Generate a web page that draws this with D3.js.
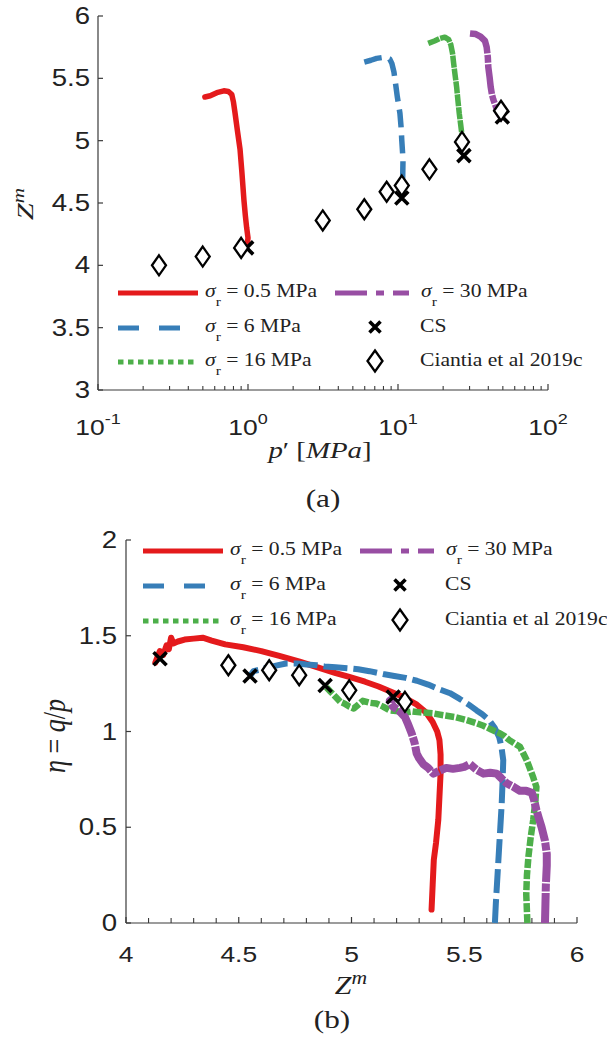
<!DOCTYPE html>
<html><head><meta charset="utf-8">
<script src="https://cdn.jsdelivr.net/npm/d3@7"></script>
<style>body{margin:0;background:#fff}</style>
</head><body>
<svg id="c" width="607" height="1040" xmlns="http://www.w3.org/2000/svg"></svg>
<script>
// ---------------- DATA ----------------
// (a) p' [MPa] vs Z^m
const topRed    = [[0.516,5.35],[0.56,5.36],[0.62,5.385],[0.69,5.40],[0.74,5.395],[0.78,5.37],[0.80,5.31],[0.82,5.22],[0.85,5.08],[0.885,4.93],[0.91,4.75],[0.94,4.52],[0.96,4.40],[0.98,4.30],[1.0,4.22],[0.99,4.17],[0.97,4.15]];
const topBlue   = [[5.96,5.63],[6.6,5.645],[7.2,5.66],[8.2,5.67],[8.8,5.655],[9.1,5.62],[9.4,5.55],[9.6,5.47],[9.9,5.35],[10.3,5.22],[10.5,5.10],[10.6,5.0],[10.8,4.85],[10.75,4.71],[10.6,4.6]];
const topGreen  = [[15.9,5.78],[17.5,5.80],[19,5.82],[20.5,5.83],[21.8,5.81],[22.5,5.77],[23.1,5.70],[23.5,5.62],[24.0,5.53],[24.6,5.43],[25.1,5.32],[25.6,5.22],[26.1,5.14],[26.6,5.06],[26.9,4.99]];
const topPurple = [[30.2,5.86],[33,5.855],[35.5,5.835],[38,5.80],[39,5.75],[39.7,5.67],[40,5.59],[40.8,5.51],[41.5,5.43],[42.3,5.37],[43.2,5.33],[45,5.27],[46.7,5.22],[48.5,5.19],[50.4,5.17]];
const topCS       = [[0.98,4.14],[10.6,4.54],[27.5,4.88],[49.6,5.19]];
const topCiantia  = [[0.255,4.0],[0.499,4.07],[0.90,4.14],[3.15,4.36],[5.96,4.45],[8.4,4.59],[10.6,4.64],[16.2,4.77],[26.7,4.99],[48.6,5.24]];

// (b) Z^m vs eta = q/p
const botRed = [[4.13,1.36],[4.14,1.39],[4.15,1.42],[4.165,1.40],[4.18,1.45],[4.19,1.43],[4.20,1.49],[4.21,1.46],[4.23,1.47],[4.26,1.48],[4.30,1.485],[4.34,1.49],[4.38,1.475],[4.44,1.455],[4.52,1.44],[4.60,1.42],[4.68,1.395],[4.77,1.365],[4.85,1.335],[4.93,1.305],[4.99,1.285],[5.06,1.26],[5.12,1.235],[5.17,1.21],[5.23,1.18],[5.29,1.14],[5.33,1.10],[5.36,1.05],[5.38,1.0],[5.39,0.955],[5.395,0.88],[5.395,0.78],[5.39,0.66],[5.385,0.54],[5.375,0.42],[5.365,0.33],[5.36,0.20],[5.355,0.07]];
const botBlue = [[5.636,0.0],[5.64,0.1],[5.645,0.2],[5.65,0.3],[5.655,0.4],[5.66,0.5],[5.666,0.62],[5.67,0.74],[5.673,0.85],[5.665,0.92],[5.655,0.97],[5.635,1.02],[5.61,1.06],[5.58,1.09],[5.555,1.11],[5.52,1.14],[5.48,1.17],[5.437,1.20],[5.39,1.22],[5.34,1.245],[5.29,1.265],[5.24,1.28],[5.19,1.29],[5.14,1.30],[5.08,1.315],[5.03,1.325],[4.99,1.33],[4.93,1.335],[4.88,1.34],[4.846,1.346],[4.80,1.35],[4.76,1.355],[4.71,1.355],[4.67,1.345],[4.63,1.335],[4.60,1.325],[4.565,1.315],[4.55,1.29]];
const botGreen = [[5.78,0.0],[5.778,0.06],[5.775,0.15],[5.778,0.25],[5.785,0.35],[5.795,0.45],[5.806,0.54],[5.815,0.63],[5.82,0.71],[5.806,0.76],[5.79,0.81],[5.777,0.85],[5.76,0.89],[5.747,0.92],[5.72,0.94],[5.70,0.955],[5.68,0.975],[5.659,0.99],[5.62,1.01],[5.585,1.03],[5.55,1.045],[5.51,1.06],[5.46,1.075],[5.407,1.085],[5.36,1.095],[5.304,1.10],[5.27,1.105],[5.245,1.10],[5.21,1.105],[5.17,1.11],[5.14,1.13],[5.11,1.146],[5.08,1.15],[5.05,1.16],[5.03,1.14],[5.01,1.12],[4.99,1.13],[4.97,1.145],[4.95,1.155],[4.93,1.18],[4.905,1.21],[4.885,1.235]];
const botPurple = [[5.858,0.0],[5.86,0.1],[5.862,0.2],[5.866,0.3],[5.866,0.36],[5.858,0.43],[5.843,0.50],[5.83,0.55],[5.82,0.59],[5.81,0.64],[5.80,0.68],[5.775,0.69],[5.747,0.69],[5.72,0.71],[5.688,0.73],[5.665,0.755],[5.644,0.78],[5.615,0.785],[5.585,0.78],[5.555,0.80],[5.525,0.83],[5.50,0.815],[5.48,0.81],[5.45,0.805],[5.42,0.81],[5.39,0.795],[5.363,0.78],[5.34,0.81],[5.318,0.83],[5.30,0.86],[5.289,0.885],[5.28,0.94],[5.267,0.99],[5.25,1.04],[5.237,1.076],[5.21,1.11],[5.185,1.13],[5.17,1.16],[5.19,1.18]];
const botCS      = [[4.151,1.38],[4.55,1.29],[4.883,1.24],[5.185,1.18]];
const botCiantia = [[4.454,1.346],[4.635,1.32],[4.768,1.294],[4.99,1.215],[5.237,1.155]];

// ticks / labels
const topYTicks = [3,3.5,4,4.5,5,5.5,6];
const topXMajor = [0.1,1,10,100];
const topXExp   = ["-1","0","1","2"];
const topXMinor = [0.2,0.3,0.4,0.5,0.6,0.7,0.8,0.9,2,3,4,5,6,7,8,9,20,30,40,50,60,70,80,90];
const botXTicks = [4,4.5,5,5.5,6];
const botXMinor = [4.1,4.2,4.3,4.4,4.6,4.7,4.8,4.9,5.1,5.2,5.3,5.4,5.6,5.7,5.8,5.9];
const botYTicks = [0,0.5,1,1.5,2];

const seriesNames = ["0.5","6","16","30"];
const colors = {red:"#e41a1c", blue:"#377eb8", green:"#4daf4a", purple:"#984ea3"};

// ---------------- DRAW ----------------
const svg = d3.select('#c');
const SX = 1.2;
const SANS = "'Liberation Sans', Arial, sans-serif";
const SERIF = "'Liberation Serif', 'Times New Roman', serif";
const AX = "#3a3a3a";

function stext(g, x, y, anchor, font, size, color){
  return g.append('text')
    .attr('transform', `translate(${x},${y}) scale(${SX},1)`)
    .attr('text-anchor', anchor).attr('font-family', font)
    .attr('font-size', size).attr('fill', color || '#222');
}

function markerCross(g, pts, xs, ys, s){
  g.selectAll(null).data(pts).enter().append('path')
    .attr('d', `M${-s},${-s}L${s},${s}M${-s},${s}L${s},${-s}`)
    .attr('transform', d => `translate(${xs(d[0])},${ys(d[1])})`)
    .attr('stroke', '#000').attr('stroke-width', 3.6).attr('fill','none');
}
function markerDiamond(g, pts, xs, ys, w, h){
  g.selectAll(null).data(pts).enter().append('path')
    .attr('d', `M0,${-h}L${w},0L0,${h}L${-w},0Z`)
    .attr('transform', d => `translate(${xs(d[0])},${ys(d[1])})`)
    .attr('stroke', '#000').attr('stroke-width', 2.3).attr('fill','#fff');
}

function drawLine(g, data, xs, ys, color, width, dash){
  const line = d3.line().x(d => xs(d[0])).y(d => ys(d[1]));
  g.append('path').datum(data).attr('d', line)
    .attr('fill','none').attr('stroke', color).attr('stroke-width', width)
    .attr('stroke-linejoin','round').attr('stroke-linecap', dash ? 'butt' : 'round')
    .attr('stroke-dasharray', dash || null);
}

function legend(g, x0, rows){
  const lineW = 80;
  const items = [
    {col:0,row:0,color:colors.red,dash:null,val:seriesNames[0]},
    {col:0,row:1,color:colors.blue,dash:"21,20",val:seriesNames[1]},
    {col:0,row:2,color:colors.green,dash:"5.5,4.5",val:seriesNames[2]},
    {col:1,row:0,color:colors.purple,dash:"32,9,8,9",val:seriesNames[3]},
  ];
  items.forEach(it => {
    const lx = it.col === 0 ? x0 : x0 + 217;
    const lw = it.col === 0 ? lineW : 74;
    const ty = rows[it.row];
    g.append('line').attr('x1', lx).attr('x2', lx + lw)
      .attr('y1', ty - 4).attr('y2', ty - 4)
      .attr('stroke', it.color).attr('stroke-width', 5).attr('stroke-dasharray', it.dash);
    const tx = lx + lw + 7 + (it.col === 1 ? 5 : 0);
    const t = stext(g, tx, ty, 'start', SERIF, 18);
    t.append('tspan').attr('font-style','italic').text('σ');
    t.append('tspan').attr('font-size', 13).attr('dy', 9).text('r');
    t.append('tspan').attr('dy', -9).text(` = ${it.val} MPa`);
  });
  const mx = x0 + 257;
  markerCross(g, [[0,0]], v => mx, v => rows[1] - 5, 5.5);
  stext(g, x0 + 302, rows[1], 'start', SERIF, 18).text('CS');
  markerDiamond(g, [[0,0]], v => mx, v => rows[2] - 5, 7.5, 10.5);
  stext(g, x0 + 302, rows[2], 'start', SERIF, 18).text('Ciantia et al 2019c');
}

// ===== Chart (a) =====
{
  const g = svg.append('g');
  const xs = d3.scaleLog().domain([0.1,100]).range([98,548]);
  const ys = d3.scaleLinear().domain([3,6]).range([390,16]);

  g.append('line').attr('x1',98).attr('x2',98).attr('y1',ys(6)).attr('y2',ys(3)).attr('stroke',AX).attr('stroke-width',1.2);
  g.append('line').attr('x1',98).attr('x2',548).attr('y1',390).attr('y2',390).attr('stroke',AX).attr('stroke-width',1.2);
  g.selectAll(null).data(topYTicks).enter().append('line')
    .attr('x1',98).attr('x2',103).attr('y1',d=>ys(d)).attr('y2',d=>ys(d)).attr('stroke',AX).attr('stroke-width',1.2);
  g.selectAll(null).data(topXMajor).enter().append('line')
    .attr('x1',d=>xs(d)).attr('x2',d=>xs(d)).attr('y1',390).attr('y2',384).attr('stroke',AX).attr('stroke-width',1.2);
  g.selectAll(null).data(topXMinor).enter().append('line')
    .attr('x1',d=>xs(d)).attr('x2',d=>xs(d)).attr('y1',390).attr('y2',386).attr('stroke',AX).attr('stroke-width',1.1);
  topYTicks.forEach(v => {
    stext(g, 90, ys(v) + 8, 'end', SANS, 23).text(v);
  });
  topXMajor.forEach((v,i) => {
    const t = stext(g, xs(v), 435, 'middle', SANS, 22);
    t.append('tspan').text('10');
    t.append('tspan').attr('font-size', 15).attr('dy', -11).text(topXExp[i]);
  });
  {
    const t = g.append('text').attr('transform','translate(33,204) rotate(-90) scale(1.25,1)')
      .attr('text-anchor','middle').attr('font-family',SERIF).attr('font-size',24).attr('fill','#222').attr('font-style','italic');
    t.append('tspan').text('Z');
    t.append('tspan').attr('font-size',17).attr('dy',-9).text('m');
  }
  {
    const t = stext(g, 320, 458, 'middle', SERIF, 24);
    t.append('tspan').attr('font-style','italic').text('p');
    t.append('tspan').text('′  [');
    t.append('tspan').attr('font-style','italic').text('MPa');
    t.append('tspan').text(']');
  }
  stext(g, 323, 507, 'middle', SERIF, 26).text('(a)');

  drawLine(g, topRed, xs, ys, colors.red, 5.5, null);
  drawLine(g, topBlue, xs, ys, colors.blue, 5.5, "18,8");
  drawLine(g, topGreen, xs, ys, colors.green, 5.5, "12,1");
  drawLine(g, topPurple, xs, ys, colors.purple, 6.5, "30,1.5,8,1.5");
  markerCross(g, topCS, xs, ys, 6.5);
  markerDiamond(g, topCiantia, xs, ys, 7, 10);

  legend(g, 118, [297, 332, 366]);
}

// ===== Chart (b) =====
{
  const g = svg.append('g');
  const xs = d3.scaleLinear().domain([4,6]).range([126,577]);
  const ys = d3.scaleLinear().domain([0,2]).range([923,540]);

  g.append('line').attr('x1',126).attr('x2',126).attr('y1',ys(2)).attr('y2',ys(0)).attr('stroke',AX).attr('stroke-width',1.2);
  g.append('line').attr('x1',126).attr('x2',577).attr('y1',923).attr('y2',923).attr('stroke',AX).attr('stroke-width',1.2);
  g.selectAll(null).data(botYTicks).enter().append('line')
    .attr('x1',126).attr('x2',131).attr('y1',d=>ys(d)).attr('y2',d=>ys(d)).attr('stroke',AX).attr('stroke-width',1.2);
  g.selectAll(null).data(botXTicks).enter().append('line')
    .attr('x1',d=>xs(d)).attr('x2',d=>xs(d)).attr('y1',923).attr('y2',917).attr('stroke',AX).attr('stroke-width',1.2);
  g.selectAll(null).data(botXMinor).enter().append('line')
    .attr('x1',d=>xs(d)).attr('x2',d=>xs(d)).attr('y1',923).attr('y2',918).attr('stroke',AX).attr('stroke-width',1.1);
  botYTicks.forEach(v => {
    stext(g, 117, ys(v) + 8, 'end', SANS, 23).text(v);
  });
  botXTicks.forEach(v => {
    stext(g, xs(v), 962, 'middle', SANS, 22).text(v);
  });
  {
    const t = stext(g, 351, 994, 'middle', SERIF, 25);
    t.append('tspan').attr('font-style','italic').text('Z');
    t.append('tspan').attr('font-size',18).attr('dy',-10).attr('font-style','italic').text('m');
  }
  {
    const t = g.append('text').attr('transform','translate(65,736) rotate(-90) scale(1,1.2)')
      .attr('text-anchor','middle').attr('font-family',SERIF).attr('font-size',26).attr('fill','#222');
    t.append('tspan').attr('font-style','italic').text('η');
    t.append('tspan').text(' = ');
    t.append('tspan').attr('font-style','italic').text('q');
    t.append('tspan').text('/');
    t.append('tspan').attr('font-style','italic').text('p');
  }
  stext(g, 332, 1028, 'middle', SERIF, 26).text('(b)');

  drawLine(g, botRed, xs, ys, colors.red, 6, null);
  drawLine(g, botBlue, xs, ys, colors.blue, 6, "24,6");
  drawLine(g, botGreen, xs, ys, colors.green, 6.5, "9,2");
  drawLine(g, botPurple, xs, ys, colors.purple, 8, "30,1.5,8,1.5");
  markerCross(g, botCS, xs, ys, 6.5);
  markerDiamond(g, botCiantia, xs, ys, 7, 10);

  legend(g, 143, [555, 590, 625]);
}
</script>
</body></html>
